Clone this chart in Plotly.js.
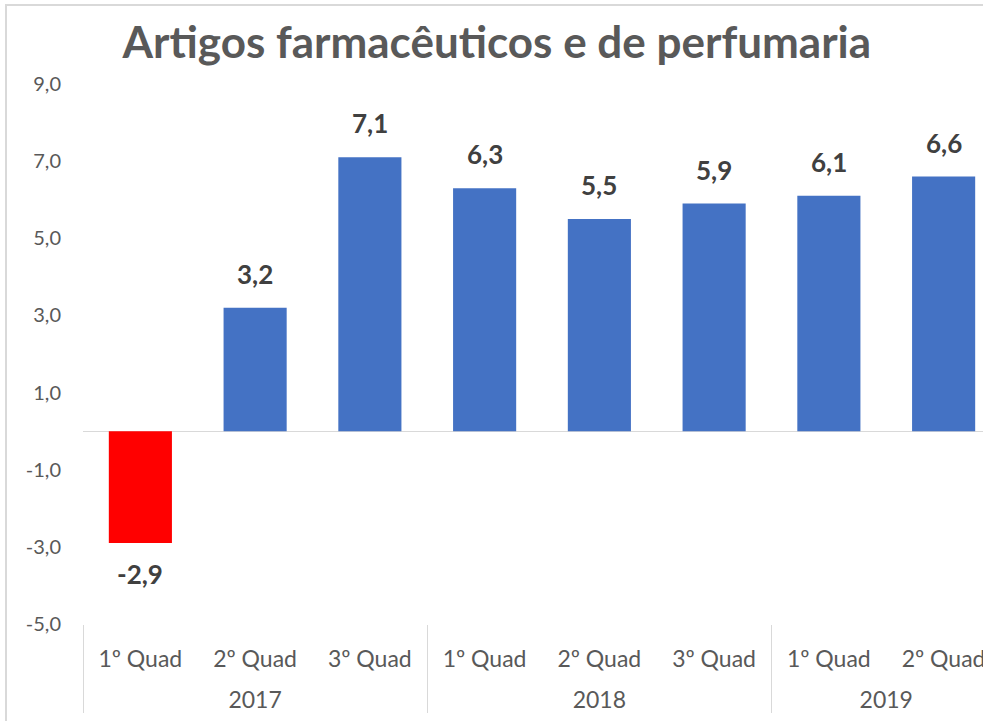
<!DOCTYPE html>
<html>
<head>
<meta charset="utf-8">
<script src="https://cdn.plot.ly/plotly-3.0.1.min.js"></script>
<style>
  html, body { margin: 0; padding: 0; background: #fff; overflow: hidden; width: 983px; height: 721px; }
  #frame { position: absolute; left: 5px; top: 4px; border-left: 2px solid #d9d9d9; border-top: 2px solid #d9d9d9; }
  #chart { width: 1010px; height: 730px; }
</style>
</head>
<body>
<div id="frame"><div id="chart"></div></div>
<script>
const years = ["2017", "2017", "2017", "2018", "2018", "2018", "2019", "2019"];
const quads = ["1º Quad", "2º Quad", "3º Quad", "1º Quad", "2º Quad", "3º Quad", "1º Quad", "2º Quad"];
const values = [-2.9, 3.2, 7.1, 6.3, 5.5, 5.9, 6.1, 6.6];
const yTickVals = [-5, -3, -1, 1, 3, 5, 7, 9];
const yTickText = ["-5,0", "-3,0", "-1,0", "1,0", "3,0", "5,0", "7,0", "9,0"];
const titleText = "Artigos farmacêuticos e de perfumaria";

const FONT = "Lato, 'Open Sans', sans-serif";
const barColors = values.map(v => v < 0 ? "#FF0000" : "#4472C4");

const trace = {
  type: "bar",
  x: [years, quads],
  y: values,
  marker: { color: barColors, line: { width: 0 } },
  textposition: "none",
  hoverinfo: "none"
};

const valueLabels = values.map((v, i) => ({
  x: i,
  y: v,
  xref: "x",
  yref: "y",
  text: "<b>" + v.toFixed(1).replace(".", ",") + "</b>",
  showarrow: false,
  yanchor: v < 0 ? "top" : "bottom",
  yshift: v < 0 ? -13 : 16,
  font: { family: FONT, size: 26, color: "#404040" }
}));

const layout = {
  width: 1010,
  height: 730,
  separators: ",.",
  paper_bgcolor: "#fff",
  plot_bgcolor: "#fff",
  showlegend: false,
  bargap: 0.45,
  margin: { l: 76, r: 16, t: 78, b: 112 },
  title: {
    text: "<b>" + titleText + "</b>",
    font: { family: FONT, size: 44, color: "#595959" },
    x: 0.485, xanchor: "center",
    y: 0.95, yanchor: "middle"
  },
  annotations: valueLabels,
  xaxis: {
    type: "multicategory",
    showgrid: false,
    zeroline: false,
    showline: false,
    showdividers: true,
    dividercolor: "#d9d9d9",
    dividerwidth: 1,
    ticks: "",
    tickangle: 0.001,
    ticklabelshift: -42,
    ticklabelstandoff: 19,
    tickfont: { family: FONT, size: 23, color: "#595959" }
  },
  yaxis: {
    range: [-5, 9],
    tickmode: "array",
    tickvals: yTickVals,
    ticktext: yTickText,
    showgrid: false,
    zeroline: true,
    zerolinecolor: "#d9d9d9",
    zerolinewidth: 1,
    showline: false,
    ticks: "",
    ticklabelstandoff: 21,
    tickfont: { family: FONT, size: 20, color: "#595959" }
  }
};

Plotly.newPlot("chart", [trace], layout, { displayModeBar: false, staticPlot: true });
</script>
</body>
</html>
